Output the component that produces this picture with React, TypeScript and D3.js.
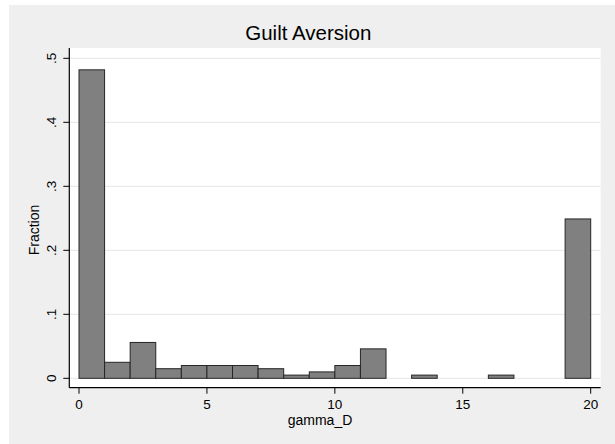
import React from "react";
import * as d3 from "d3";

const binStarts = [0, 1, 2, 3, 4, 5, 6, 7, 8, 9, 10, 11, 12, 13, 14, 15, 16, 17, 18, 19];
const fractions = [0.482, 0.025, 0.056, 0.015, 0.02, 0.02, 0.02, 0.015, 0.005, 0.01, 0.02, 0.046, 0, 0.005, 0, 0, 0.005, 0, 0, 0.249];
const binWidth = 1;
const xTicks = [0, 5, 10, 15, 20];
const xTickLabels = ["0", "5", "10", "15", "20"];
const yTicks = [0, 0.1, 0.2, 0.3, 0.4, 0.5];
const yTickLabels = ["0", ".1", ".2", ".3", ".4", ".5"];
const title = "Guilt Aversion";
const xTitle = "gamma_D";
const yTitle = "Fraction";

const W = 615;
const H = 444;
const FONT = "'Liberation Sans', Arial, Helvetica, sans-serif";

export default function App() {
  const plotLeft = 69.3;
  const plotRight = 600.7;
  const plotTop = 48;
  const plotBottom = 387.7;
  const x = d3.scaleLinear().domain([0, 20]).range([79, 590.7]);
  const y = d3.scaleLinear().domain([0, 0.5]).range([378.3, 58.3]);

  return (
    <svg
      width={W}
      height={H}
      style={{ position: "absolute", left: 0, top: 0, display: "block" }}
      xmlns="http://www.w3.org/2000/svg"
    >
      <rect x={0} y={0} width={W} height={H} fill="#ffffff" />
      <rect x={9} y={5} width={W - 9} height={H - 5} fill="#efefef" />
      <rect x={plotLeft} y={plotTop} width={plotRight - plotLeft} height={plotBottom - plotTop} fill="#ffffff" />
      {yTicks.map((t, i) => (
        <line key={"g" + i} x1={plotLeft} x2={plotRight} y1={y(t)} y2={y(t)} stroke="#e6e6e6" strokeWidth={1} />
      ))}
      {binStarts.map((b, i) =>
        fractions[i] > 0 ? (
          <rect
            key={"b" + i}
            x={x(b)}
            y={y(fractions[i])}
            width={x(b + binWidth) - x(b)}
            height={y(0) - y(fractions[i])}
            fill="#808080"
            stroke="#262626"
            strokeWidth={1}
          />
        ) : null
      )}
      <line x1={plotLeft} x2={plotLeft} y1={plotTop} y2={plotBottom} stroke="#000" strokeWidth={1.2} />
      <line x1={plotLeft} x2={plotRight} y1={plotBottom} y2={plotBottom} stroke="#000" strokeWidth={1.2} />
      {yTicks.map((t, i) => (
        <g key={"yt" + i}>
          <line x1={plotLeft - 6} x2={plotLeft} y1={y(t)} y2={y(t)} stroke="#000" strokeWidth={1} />
          <text
            transform={`translate(${56},${y(t)}) rotate(-90)`}
            textAnchor="middle"
            fontFamily={FONT}
            fontSize={13.5}
            fill="#000"
          >
            {yTickLabels[i]}
          </text>
        </g>
      ))}
      {xTicks.map((t, i) => (
        <g key={"xt" + i}>
          <line x1={x(t)} x2={x(t)} y1={plotBottom} y2={plotBottom + 6} stroke="#000" strokeWidth={1} />
          <text x={x(t)} y={408.8} textAnchor="middle" fontFamily={FONT} fontSize={13.5} fill="#000">
            {xTickLabels[i]}
          </text>
        </g>
      ))}
      <text x={320} y={424.5} textAnchor="middle" fontFamily={FONT} fontSize={14} fill="#000">
        {xTitle}
      </text>
      <text
        transform={`translate(${38.5},${230}) rotate(-90)`}
        textAnchor="middle"
        fontFamily={FONT}
        fontSize={14}
        fill="#000"
      >
        {yTitle}
      </text>
      <text x={308.3} y={40} textAnchor="middle" fontFamily={FONT} fontSize={20.5} fill="#000">
        {title}
      </text>
    </svg>
  );
}
